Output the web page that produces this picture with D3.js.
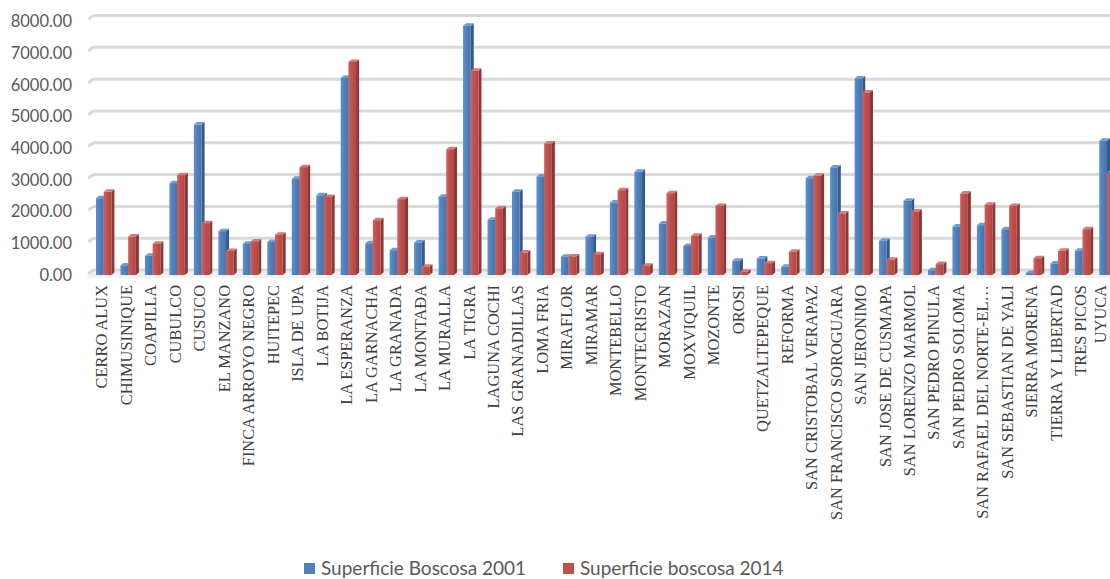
<!DOCTYPE html>
<html>
<head>
<meta charset="utf-8">
<script src="https://cdn.jsdelivr.net/npm/d3@7"></script>
<style>
  html, body { margin: 0; padding: 0; background: #ffffff; }
  svg { display: block; }
</style>
</head>
<body>
<svg id="chart" width="1110" height="579"></svg>
<script>
// Protected areas and their forest cover (hectares), 2001 vs 2014
const categories = [
  "CERRO ALUX", "CHIMUSINIQUE", "COAPILLA", "CUBULCO", "CUSUCO", "EL MANZANO",
  "FINCA ARROYO NEGRO", "HUITEPEC", "ISLA DE UPA", "LA BOTIJA", "LA ESPERANZA",
  "LA GARNACHA", "LA GRANADA", "LA MONTAÐA", "LA MURALLA", "LA TIGRA",
  "LAGUNA COCHI", "LAS GRANADILLAS", "LOMA FRIA", "MIRAFLOR", "MIRAMAR",
  "MONTEBELLO", "MONTECRISTO", "MORAZAN", "MOXVIQUIL", "MOZONTE", "OROSI",
  "QUETZALTEPEQUE", "REFORMA", "SAN CRISTOBAL VERAPAZ", "SAN FRANCISCO SOROGUARA",
  "SAN JERONIMO", "SAN JOSE DE CUSMAPA", "SAN LORENZO MARMOL", "SAN PEDRO PINULA",
  "SAN PEDRO SOLOMA", "SAN RAFAEL DEL NORTE-EL…", "SAN SEBASTIAN DE YALI",
  "SIERRA MORENA", "TIERRA Y LIBERTAD", "TRES PICOS", "UYUCA"
];

const values2001 = [
  2400, 300, 600, 2870, 4700, 1370, 980, 1030, 3010, 2490, 6160,
  990, 775, 1015, 2445, 7790, 1725, 2600, 3080, 570, 1195,
  2265, 3225, 1610, 910, 1170, 445, 515, 255, 3025, 3360,
  6140, 1070, 2320, 150, 1515, 1555, 1430, 60, 360, 755, 4195
];

const values2014 = [
  2600, 1200, 980, 3120, 1620, 750, 1050, 1260, 3370, 2440, 6660,
  1710, 2370, 260, 3930, 6380, 2080, 700, 4110, 580, 650,
  2650, 290, 2555, 1225, 2160, 100, 370, 725, 3100, 1920,
  5700, 475, 1985, 340, 2545, 2195, 2160, 525, 755, 1430, 3200
];

const seriesNames = ["Superficie Boscosa 2001", "Superficie boscosa 2014"];
const yTicks = [0, 1000, 2000, 3000, 4000, 5000, 6000, 7000, 8000];

const svg = d3.select("#chart");

// Shading for each series: front face gradient, side and top faces
const palette = [
  { base: "#4F81BD", light: "#5f90cc", dark: "#4574ad", side: "#36598a", top: "#6f9ad0" },
  { base: "#C0504D", light: "#cc615e", dark: "#b24643", side: "#8a3735", top: "#d27a77" }
];

const defs = svg.append("defs");
palette.forEach((p, i) => {
  const g = defs.append("linearGradient").attr("id", "front" + i)
    .attr("x1", "0%").attr("x2", "100%").attr("y1", "0%").attr("y2", "0%");
  g.append("stop").attr("offset", "0%").attr("stop-color", p.light);
  g.append("stop").attr("offset", "45%").attr("stop-color", p.base);
  g.append("stop").attr("offset", "100%").attr("stop-color", p.dark);
});

// Scales
const x = d3.scaleBand().domain(categories).range([90, 90 + categories.length * 24.47]).padding(0);
const yWall = d3.scaleLinear().domain([0, 8000]).range([270, 15.5]);   // back wall gridlines
const yBar = d3.scaleLinear().domain([0, 8000]).range([275, 19]);      // bar front faces
const yAxisScale = d3.scaleLinear().domain([0, 8000]).range([275, 21.5]); // value labels

const depthX = 3, depthY = 2.5;     // 3D extrusion of the columns
const barW = 7.7, barOffset = 6;    // front face width and offset inside each band

// Floor
svg.append("path")
  .attr("d", `M86,278 L92,${yWall(0)} L1110,${yWall(0)} L1110,278 Z`)
  .attr("fill", "#f2f2f2");

// Gridlines on the back wall, with the short side-wall segment at the left
const grid = svg.append("g").attr("class", "grid");
yTicks.forEach(t => {
  const yy = yWall(t);
  grid.append("path")
    .attr("d", `M88.5,${yy + 4} Q91,${yy + 0.5} 95,${yy} L1110,${yy}`)
    .attr("fill", "none")
    .attr("stroke", "#d9d9d9")
    .attr("stroke-width", 3);
});

// Columns
const rows = categories.map((c, i) => ({ cat: c, vals: [values2001[i], values2014[i]] }));
const bars = svg.append("g").attr("class", "bars");

function column(g, x0, v, s) {
  const p = palette[s];
  const yt = yBar(v), yb = yBar(0);
  const x1 = x0 + barW;
  // side face
  g.append("path")
    .attr("d", `M${x1},${yt} L${x1 + depthX},${yt - depthY} L${x1 + depthX},${yb - depthY} L${x1},${yb} Z`)
    .attr("fill", p.side);
  // top face
  g.append("path")
    .attr("d", `M${x0},${yt} L${x0 + depthX},${yt - depthY} L${x1 + depthX},${yt - depthY} L${x1},${yt} Z`)
    .attr("fill", p.top);
  // front face
  g.append("rect")
    .attr("x", x0).attr("y", yt)
    .attr("width", barW).attr("height", yb - yt)
    .attr("fill", `url(#front${s})`);
}

rows.forEach(r => {
  const g = bars.append("g");
  r.vals.forEach((v, s) => {
    column(g, x(r.cat) + barOffset + s * barW, v, s);
  });
});

// Value axis labels
const yAxis = d3.axisLeft(yAxisScale).tickValues(yTicks).tickFormat(d3.format(".2f")).tickSize(0).tickPadding(0);
svg.append("g")
  .attr("transform", "translate(72,0)")
  .call(yAxis)
  .call(g => g.select(".domain").remove())
  .selectAll("text")
  .attr("font-family", "Lato, 'Open Sans', sans-serif")
  .attr("font-size", 16.5)
  .attr("fill", "#595959");

// Category labels, rotated; the last one is nudged so it stays inside the frame
const lastCat = categories[categories.length - 1];
const xAxis = d3.axisBottom(x).tickSize(0).tickPadding(0);
svg.append("g")
  .attr("transform", "translate(-0.5,285)")
  .call(xAxis)
  .call(g => g.select(".domain").remove())
  .selectAll("text")
  .attr("transform", "rotate(-90)")
  .attr("x", 0).attr("y", 0)
  .attr("dy", d => d === lastCat ? "0.05em" : "0.35em")
  .attr("text-anchor", "end")
  .attr("font-family", "'Liberation Serif', 'Times New Roman', serif")
  .attr("font-size", 16.4)
  .attr("fill", "#404040");

// Legend
const legendX = [304, 563];
const legend = svg.append("g").attr("class", "legend");
seriesNames.forEach((name, i) => {
  const lg = legend.append("g").attr("transform", `translate(${legendX[i]},563)`);
  lg.append("rect").attr("width", 11).attr("height", 11).attr("fill", palette[i].base);
  lg.append("text")
    .attr("x", 17).attr("y", 12)
    .attr("font-family", "Lato, 'Open Sans', sans-serif")
    .attr("font-size", 19)
    .attr("fill", "#595959")
    .text(name);
});
</script>
</body>
</html>
